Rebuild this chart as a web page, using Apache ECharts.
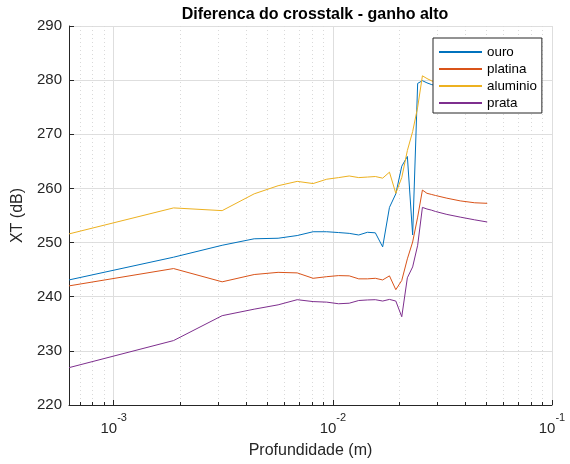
<!DOCTYPE html>
<html>
<head>
<meta charset="utf-8">
<script src="https://cdn.jsdelivr.net/npm/echarts@6/dist/echarts.min.js"></script>
<style>
html,body{margin:0;padding:0;background:#fff;}
#chart{width:570px;height:464px;}
</style>
</head>
<body>
<div id="chart"></div>
<script>
// Depth values (m)
var depth = [0.000625, 0.001875, 0.003125, 0.004375, 0.005625, 0.006875, 0.008125, 0.009375,
  0.010625, 0.011875, 0.013125, 0.014375, 0.015625, 0.016875, 0.018125, 0.019375, 0.020625,
  0.021875, 0.023125, 0.024375, 0.025625, 0.026875, 0.028125, 0.029375, 0.033125, 0.038125,
  0.044375, 0.050625];
var ouro = [243.1, 247.3, 249.5, 250.7, 250.8, 251.3, 252.0, 252.0, 251.85, 251.7, 251.4, 251.9,
  251.8, 249.2, 256.5, 259.0, 264.1, 265.9, 251.4, 279.4, 279.9, 279.5, 279.2, 279.0, 278.6,
  278.3, 278.0, 277.8];
var platina = [242.0, 245.2, 242.75, 244.1, 244.5, 244.4, 243.4, 243.7, 243.9, 243.85, 243.3,
  243.3, 243.4, 243.1, 243.85, 241.3, 243.0, 247.0, 250.1, 254.7, 259.7, 259.1, 258.9, 258.7,
  258.2, 257.7, 257.35, 257.25];
var aluminio = [251.6, 256.4, 255.9, 259.0, 260.5, 261.3, 260.9, 261.7, 262.0, 262.3, 262.0,
  262.1, 262.2, 261.9, 263.0, 259.1, 262.0, 267.0, 270.5, 275.0, 280.8, 280.3, 279.9, 279.6,
  279.2, 278.9, 278.6, 278.4];
var prata = [226.9, 231.9, 236.5, 237.7, 238.5, 239.45, 239.1, 239.0, 238.7, 238.8, 239.3, 239.4,
  239.45, 239.2, 239.5, 239.2, 236.3, 243.5, 245.5, 249.5, 256.5, 256.2, 256.0, 255.75, 255.2,
  254.7, 254.2, 253.8];
var seriesNames = ['ouro', 'platina', 'aluminio', 'prata'];
var seriesColors = ['#0072BD', '#D95319', '#EDB120', '#7E2F8E'];
// minor log ticks of x axis
var minorTicks = [0.0007, 0.0008, 0.0009, 0.002, 0.003, 0.004, 0.005, 0.006, 0.007, 0.008, 0.009,
  0.02, 0.03, 0.04, 0.05, 0.06, 0.07, 0.08, 0.09];
var yTicks = {min: 220, max: 290, interval: 10};
var xRange = {min: 0.000625, max: 0.1};

function pairs(xs, ys) {
  return xs.map(function (x, i) { return [x, ys[i]]; });
}

var chart = echarts.init(document.getElementById('chart'), null, {renderer: 'canvas'});
var AX = '#262626';
var allValues = [ouro, platina, aluminio, prata];

var series = [{
  type: 'custom',
  name: 'minor',
  z: 1,
  silent: true,
  clip: true,
  data: minorTicks.map(function (v) { return [v]; }),
  encode: {x: 0},
  renderItem: function (params, api) {
    var cs = params.coordSys;
    var x = Math.round(api.coord([api.value(0), yTicks.min])[0]) + 0.5;
    var bottom = cs.y + cs.height;
    return {
      type: 'group',
      children: [{
        type: 'line',
        shape: {x1: x, y1: cs.y, x2: x, y2: bottom},
        style: {stroke: '#d9d9d9', lineWidth: 1, lineDash: [1, 3]}
      }, {
        type: 'line',
        z2: 10,
        shape: {x1: x, y1: bottom, x2: x, y2: bottom - 3},
        style: {stroke: AX, lineWidth: 1}
      }]
    };
  }
}];
seriesNames.forEach(function (n, i) {
  series.push({
    type: 'line',
    name: n,
    z: 3,
    data: pairs(depth, allValues[i]),
    symbol: 'none',
    showSymbol: false,
    lineStyle: {color: seriesColors[i], width: 1},
    itemStyle: {color: seriesColors[i]},
    animation: false
  });
});

chart.setOption({
  animation: false,
  backgroundColor: '#fff',
  title: {
    text: 'Diferenca do crosstalk - ganho alto',
    left: 310,
    textAlign: 'center',
    top: 2,
    textStyle: {fontFamily: 'Liberation Sans', fontWeight: 'bold', fontSize: 16, color: '#000'}
  },
  grid: {left: 69, top: 26, width: 483, height: 381.5, containLabel: false},
  legend: {
    data: seriesNames,
    orient: 'vertical',
    left: 433,
    top: 38,
    padding: [7, 5, 3, 5],
    itemWidth: 43,
    itemHeight: 14,
    itemGap: 3,
    backgroundColor: '#fff',
    borderColor: AX,
    borderWidth: 1,
    borderRadius: 0,
    z: 10,
    itemStyle: {opacity: 0},
    textStyle: {fontFamily: 'Liberation Sans', fontSize: 13.4, color: '#000', lineHeight: 14},
    selectedMode: false
  },
  xAxis: {
    type: 'log',
    logBase: 10,
    min: xRange.min,
    max: xRange.max,
    name: 'Profundidade (m)',
    nameLocation: 'middle',
    nameGap: 38,
    nameTextStyle: {fontFamily: 'Liberation Sans', fontSize: 16, color: AX},
    axisLine: {show: true, lineStyle: {color: AX, width: 1}},
    axisTick: {show: true, inside: true, length: 5, lineStyle: {color: AX}},
    splitLine: {show: true, lineStyle: {color: '#dedede', width: 1}},
    axisLabel: {
      margin: 7,
      formatter: function (v) {
        var l = Math.log10(v);
        var e = Math.round(l);
        if (Math.abs(l - e) > 1e-6) return '';
        return '{b|10}{s|' + e + '}';
      },
      rich: {
        b: {fontFamily: 'Liberation Sans', fontSize: 15, color: AX, verticalAlign: 'bottom', lineHeight: 24},
        s: {fontFamily: 'Liberation Sans', fontSize: 11, color: AX, verticalAlign: 'top', lineHeight: 21}
      }
    }
  },
  yAxis: {
    type: 'value',
    min: yTicks.min,
    max: yTicks.max,
    interval: yTicks.interval,
    name: 'XT (dB)',
    nameLocation: 'middle',
    nameGap: 35,
    nameTextStyle: {fontFamily: 'Liberation Sans', fontSize: 16, color: AX},
    axisLine: {show: true, lineStyle: {color: AX, width: 1}},
    axisTick: {show: true, inside: true, length: 5, lineStyle: {color: AX}},
    splitLine: {show: true, lineStyle: {color: '#dedede', width: 1}},
    axisLabel: {fontFamily: 'Liberation Sans', fontSize: 15, color: AX, margin: 7}
  },
  series: series
});
</script>
</body>
</html>
